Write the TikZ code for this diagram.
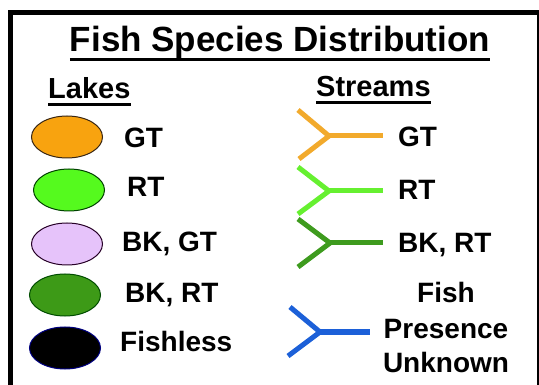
\documentclass[tikz,border=0pt]{standalone}
\usepackage{fontspec}
\setmainfont{Liberation Sans}
\usetikzlibrary{shapes.geometric,calc}
\definecolor{gtorange}{HTML}{F8A30F}
\definecolor{rtgreen}{HTML}{55FA1E}
\definecolor{bkgtpink}{HTML}{E6C3FA}
\definecolor{bkrtgreen}{HTML}{3D9A17}
\definecolor{strorange}{HTML}{F2AA2C}
\definecolor{strlight}{HTML}{66F030}
\definecolor{strdark}{HTML}{3E9B1E}
\definecolor{strblue}{HTML}{1C60D8}
\tikzset{
  lake/.style={ellipse, draw, line width=1pt, minimum width=71pt, minimum height=42pt, inner sep=0pt},
  legtext/.style={font=\fontsize{28}{32}\selectfont\bfseries, anchor=base west, inner sep=0pt},
  headtext/.style={font=\fontsize{29}{34}\selectfont\bfseries, anchor=base west, inner sep=0pt},
  stream/.style={line width=5pt, line join=miter},
  rule/.style={line width=3pt}
}

\begin{document}
\begin{tikzpicture}[x=1pt, y=-1pt]
\useasboundingbox (0,0) rectangle (539,385);
% ---- frame ----
\begin{scope}
\clip (0,0) rectangle (539,385);
\draw[line width=4.5pt] (10.5,12.5) rectangle (539.5,400);
\end{scope}
% ---- headings ----
\node[font=\fontsize{35}{40}\selectfont\bfseries, anchor=base, inner sep=0pt] (title) at (280,52) {Fish Species Distribution};
\draw[rule] ($(title.base west)+(0,8)$) -- ($(title.base east)+(0,8)$);
\node[headtext] (lakes) at (48,99) {Lakes};
\draw[rule] ($(lakes.base west)+(0,6)$) -- ($(lakes.base east)+(0,6)$);
\node[headtext] (streams) at (316,97) {Streams};
\draw[rule] ($(streams.base west)+(0,6)$) -- ($(streams.base east)+(0,6)$);
% ---- lakes ----
\node[lake, fill=gtorange, draw=black!70!brown] (lakeGT) at (67,137) {};
\node[legtext] (lblLakeGT) at (124,148) {GT};
\node[lake, fill=rtgreen, draw=black!75!green] (lakeRT) at (69,190) {};
\node[legtext] (lblLakeRT) at (127,197) {RT};
\node[lake, fill=bkgtpink, draw=black!70!violet] (lakeBKGT) at (67,244) {};
\node[legtext] (lblLakeBKGT) at (122,252) {BK, GT};
\node[lake, fill=bkrtgreen, draw=black!70!green] (lakeBKRT) at (65,295) {};
\node[legtext] (lblLakeBKRT) at (125,302) {BK, RT};
\node[lake, fill=black, draw=blue!50!black] (lakeNone) at (65,348) {};
\node[legtext] (lblLakeNone) at (120,352) {Fishless};
% ---- streams ----
\coordinate (jGT) at (329,136);
\draw[stream, strorange] (298,110) -- (jGT) -- (299,159);
\draw[stream, strorange] (jGT) -- (383,136);
\node[legtext] (lblStrGT) at (398,147) {GT};
\coordinate (jRT) at (329,191);
\draw[stream, strlight] (298,167) -- (jRT) -- (298,214);
\draw[stream, strlight] (jRT) -- (383,191);
\node[legtext] (lblStrRT) at (398,200) {RT};
\coordinate (jBKRT) at (330,243);
\draw[stream, strdark] (298,219) -- (jBKRT) -- (298,267);
\draw[stream, strdark] (jBKRT) -- (383,243);
\node[legtext] (lblStrBKRT) at (398,253) {BK, RT};
\coordinate (jUnk) at (320,332);
\draw[stream, strblue] (290,307) -- (jUnk) -- (288,356);
\draw[stream, strblue] (jUnk) -- (370,332);
\node[legtext, anchor=base] (lblFish) at (446,302) {Fish};
\node[legtext, anchor=base] (lblPresence) at (446,338) {Presence};
\node[legtext, anchor=base] (lblUnknown) at (446,372) {Unknown};
\end{tikzpicture}
\end{document}
